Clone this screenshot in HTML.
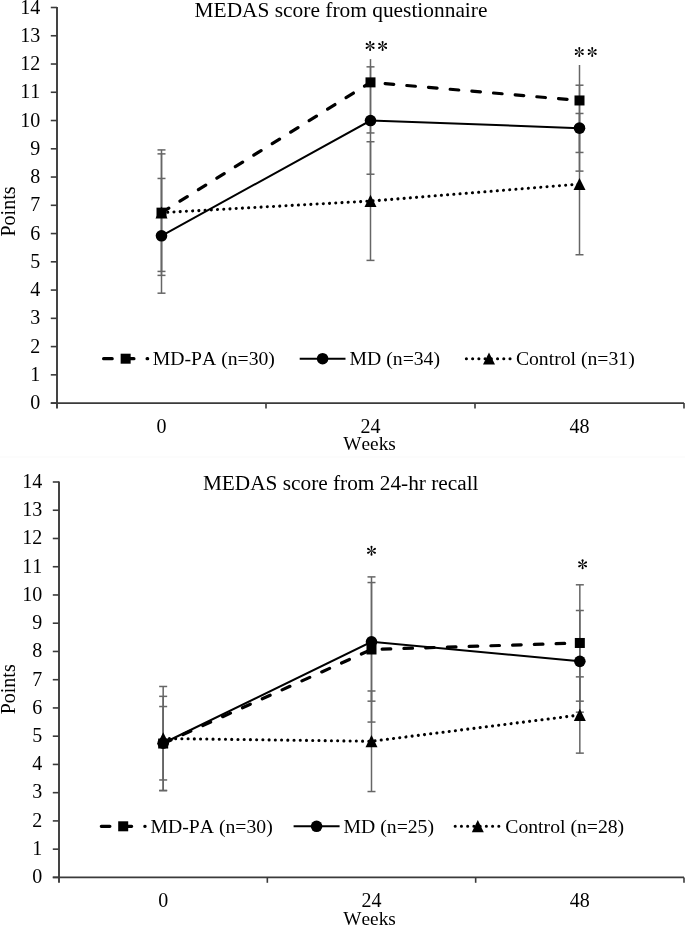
<!DOCTYPE html>
<html><head><meta charset="utf-8"><style>
html,body{margin:0;padding:0;background:#fff;}
svg{display:block;will-change:transform;}
text{font-family:"Liberation Serif", serif;font-size:20px;fill:#000;font-kerning:none;}
</style></head><body>
<svg width="685" height="926" viewBox="0 0 685 926">
<rect width="685" height="926" fill="#fff"/>
<rect x="0" y="456.5" width="685" height="1" fill="#fafafa"/>
<line x1="50.80" y1="403.10" x2="57.00" y2="403.10" stroke="#3a3a3a" stroke-width="1.6"/>
<line x1="50.80" y1="374.84" x2="57.00" y2="374.84" stroke="#3a3a3a" stroke-width="1.6"/>
<line x1="50.80" y1="346.59" x2="57.00" y2="346.59" stroke="#3a3a3a" stroke-width="1.6"/>
<line x1="50.80" y1="318.33" x2="57.00" y2="318.33" stroke="#3a3a3a" stroke-width="1.6"/>
<line x1="50.80" y1="290.07" x2="57.00" y2="290.07" stroke="#3a3a3a" stroke-width="1.6"/>
<line x1="50.80" y1="261.82" x2="57.00" y2="261.82" stroke="#3a3a3a" stroke-width="1.6"/>
<line x1="50.80" y1="233.56" x2="57.00" y2="233.56" stroke="#3a3a3a" stroke-width="1.6"/>
<line x1="50.80" y1="205.30" x2="57.00" y2="205.30" stroke="#3a3a3a" stroke-width="1.6"/>
<line x1="50.80" y1="177.04" x2="57.00" y2="177.04" stroke="#3a3a3a" stroke-width="1.6"/>
<line x1="50.80" y1="148.79" x2="57.00" y2="148.79" stroke="#3a3a3a" stroke-width="1.6"/>
<line x1="50.80" y1="120.53" x2="57.00" y2="120.53" stroke="#3a3a3a" stroke-width="1.6"/>
<line x1="50.80" y1="92.27" x2="57.00" y2="92.27" stroke="#3a3a3a" stroke-width="1.6"/>
<line x1="50.80" y1="64.02" x2="57.00" y2="64.02" stroke="#3a3a3a" stroke-width="1.6"/>
<line x1="50.80" y1="35.76" x2="57.00" y2="35.76" stroke="#3a3a3a" stroke-width="1.6"/>
<line x1="50.80" y1="7.50" x2="57.00" y2="7.50" stroke="#3a3a3a" stroke-width="1.6"/>
<line x1="57.00" y1="6.90" x2="57.00" y2="408.50" stroke="#3a3a3a" stroke-width="1.9"/>
<line x1="50.80" y1="403.10" x2="684.00" y2="403.10" stroke="#3a3a3a" stroke-width="1.6"/>
<line x1="266.00" y1="403.10" x2="266.00" y2="408.50" stroke="#3a3a3a" stroke-width="1.6"/>
<line x1="475.00" y1="403.10" x2="475.00" y2="408.50" stroke="#3a3a3a" stroke-width="1.6"/>
<line x1="684.00" y1="403.10" x2="684.00" y2="408.50" stroke="#3a3a3a" stroke-width="1.6"/>
<text x="40.30" y="409.10" text-anchor="end" style="font-size:20px">0</text>
<text x="40.30" y="380.84" text-anchor="end" style="font-size:20px">1</text>
<text x="40.30" y="352.59" text-anchor="end" style="font-size:20px">2</text>
<text x="40.30" y="324.33" text-anchor="end" style="font-size:20px">3</text>
<text x="40.30" y="296.07" text-anchor="end" style="font-size:20px">4</text>
<text x="40.30" y="267.82" text-anchor="end" style="font-size:20px">5</text>
<text x="40.30" y="239.56" text-anchor="end" style="font-size:20px">6</text>
<text x="40.30" y="211.30" text-anchor="end" style="font-size:20px">7</text>
<text x="40.30" y="183.04" text-anchor="end" style="font-size:20px">8</text>
<text x="40.30" y="154.79" text-anchor="end" style="font-size:20px">9</text>
<text x="40.30" y="126.53" text-anchor="end" style="font-size:20px">10</text>
<text x="40.30" y="98.27" text-anchor="end" style="font-size:20px">11</text>
<text x="40.30" y="70.02" text-anchor="end" style="font-size:20px">12</text>
<text x="40.30" y="41.76" text-anchor="end" style="font-size:20px">13</text>
<text x="40.30" y="13.50" text-anchor="end" style="font-size:20px">14</text>
<text x="161.50" y="432.80" text-anchor="middle">0</text>
<text x="370.50" y="432.80" text-anchor="middle">24</text>
<text x="579.50" y="432.80" text-anchor="middle">48</text>
<text x="369.60" y="450.10" text-anchor="middle" style="font-size:19.3px">Weeks</text>
<text transform="translate(15.30,211.50) rotate(-90)" text-anchor="middle">Points</text>
<text x="341.00" y="16.90" text-anchor="middle" style="font-size:21.4px">MEDAS score from questionnaire</text>
<line x1="161.50" y1="149.92" x2="161.50" y2="275.38" stroke="#666666" stroke-width="1.5"/>
<line x1="157.50" y1="149.92" x2="165.50" y2="149.92" stroke="#666666" stroke-width="1.5"/>
<line x1="157.50" y1="275.38" x2="165.50" y2="275.38" stroke="#666666" stroke-width="1.5"/>
<line x1="370.50" y1="31.80" x2="370.50" y2="132.96" stroke="#666666" stroke-width="1.5"/>
<line x1="366.50" y1="31.80" x2="374.50" y2="31.80" stroke="#666666" stroke-width="1.5"/>
<line x1="366.50" y1="132.96" x2="374.50" y2="132.96" stroke="#666666" stroke-width="1.5"/>
<line x1="579.50" y1="48.47" x2="579.50" y2="152.46" stroke="#666666" stroke-width="1.5"/>
<line x1="575.50" y1="48.47" x2="583.50" y2="48.47" stroke="#666666" stroke-width="1.5"/>
<line x1="575.50" y1="152.46" x2="583.50" y2="152.46" stroke="#666666" stroke-width="1.5"/>
<line x1="161.50" y1="178.46" x2="161.50" y2="293.18" stroke="#666666" stroke-width="1.5"/>
<line x1="157.50" y1="178.46" x2="165.50" y2="178.46" stroke="#666666" stroke-width="1.5"/>
<line x1="157.50" y1="293.18" x2="165.50" y2="293.18" stroke="#666666" stroke-width="1.5"/>
<line x1="370.50" y1="66.84" x2="370.50" y2="174.22" stroke="#666666" stroke-width="1.5"/>
<line x1="366.50" y1="66.84" x2="374.50" y2="66.84" stroke="#666666" stroke-width="1.5"/>
<line x1="366.50" y1="174.22" x2="374.50" y2="174.22" stroke="#666666" stroke-width="1.5"/>
<line x1="579.50" y1="85.21" x2="579.50" y2="171.11" stroke="#666666" stroke-width="1.5"/>
<line x1="575.50" y1="85.21" x2="583.50" y2="85.21" stroke="#666666" stroke-width="1.5"/>
<line x1="575.50" y1="171.11" x2="583.50" y2="171.11" stroke="#666666" stroke-width="1.5"/>
<line x1="161.50" y1="153.87" x2="161.50" y2="271.42" stroke="#666666" stroke-width="1.5"/>
<line x1="157.50" y1="153.87" x2="165.50" y2="153.87" stroke="#666666" stroke-width="1.5"/>
<line x1="157.50" y1="271.42" x2="165.50" y2="271.42" stroke="#666666" stroke-width="1.5"/>
<line x1="370.50" y1="141.72" x2="370.50" y2="260.40" stroke="#666666" stroke-width="1.5"/>
<line x1="366.50" y1="141.72" x2="374.50" y2="141.72" stroke="#666666" stroke-width="1.5"/>
<line x1="366.50" y1="260.40" x2="374.50" y2="260.40" stroke="#666666" stroke-width="1.5"/>
<line x1="579.50" y1="113.47" x2="579.50" y2="254.75" stroke="#666666" stroke-width="1.5"/>
<line x1="575.50" y1="113.47" x2="583.50" y2="113.47" stroke="#666666" stroke-width="1.5"/>
<line x1="575.50" y1="254.75" x2="583.50" y2="254.75" stroke="#666666" stroke-width="1.5"/>
<polyline points="161.50,212.65 370.50,82.38 579.50,100.47" fill="none" stroke="#000" stroke-width="3.2" stroke-linecap="round" stroke-dasharray="8.6 13.15"/>
<polyline points="161.50,235.82 370.50,120.53 579.50,128.16" fill="none" stroke="#000" stroke-width="2"/>
<polyline points="161.50,212.65 370.50,201.06 579.50,184.11" fill="none" stroke="#000" stroke-width="3.1" stroke-linecap="round" stroke-dasharray="0.01 6.222"/>
<rect x="156.50" y="207.65" width="10" height="10" fill="#000"/>
<rect x="365.50" y="77.38" width="10" height="10" fill="#000"/>
<rect x="574.50" y="95.47" width="10" height="10" fill="#000"/>
<circle cx="161.50" cy="235.82" r="5.8" fill="#000"/>
<circle cx="370.50" cy="120.53" r="5.8" fill="#000"/>
<circle cx="579.50" cy="128.16" r="5.8" fill="#000"/>
<polygon points="161.50,206.45 155.50,218.55 167.50,218.55" fill="#000"/>
<polygon points="370.50,194.86 364.50,206.96 376.50,206.96" fill="#000"/>
<polygon points="579.50,177.91 573.50,190.01 585.50,190.01" fill="#000"/>
<rect x="356.50" y="25.10" width="28" height="34" fill="#fff"/>
<g transform="translate(370.10,45.90)" fill="#000"><path d="M-0.1,0 L-1.02,-3.98 A1.02,1.02 0 0 1 1.02,-3.98 L0.1,0 Z" transform="rotate(0)"/><path d="M-0.1,0 L-1.02,-3.98 A1.02,1.02 0 0 1 1.02,-3.98 L0.1,0 Z" transform="rotate(60)"/><path d="M-0.1,0 L-1.02,-3.98 A1.02,1.02 0 0 1 1.02,-3.98 L0.1,0 Z" transform="rotate(120)"/><path d="M-0.1,0 L-1.02,-3.98 A1.02,1.02 0 0 1 1.02,-3.98 L0.1,0 Z" transform="rotate(180)"/><path d="M-0.1,0 L-1.02,-3.98 A1.02,1.02 0 0 1 1.02,-3.98 L0.1,0 Z" transform="rotate(240)"/><path d="M-0.1,0 L-1.02,-3.98 A1.02,1.02 0 0 1 1.02,-3.98 L0.1,0 Z" transform="rotate(300)"/></g>
<g transform="translate(382.60,45.90)" fill="#000"><path d="M-0.1,0 L-1.02,-3.98 A1.02,1.02 0 0 1 1.02,-3.98 L0.1,0 Z" transform="rotate(0)"/><path d="M-0.1,0 L-1.02,-3.98 A1.02,1.02 0 0 1 1.02,-3.98 L0.1,0 Z" transform="rotate(60)"/><path d="M-0.1,0 L-1.02,-3.98 A1.02,1.02 0 0 1 1.02,-3.98 L0.1,0 Z" transform="rotate(120)"/><path d="M-0.1,0 L-1.02,-3.98 A1.02,1.02 0 0 1 1.02,-3.98 L0.1,0 Z" transform="rotate(180)"/><path d="M-0.1,0 L-1.02,-3.98 A1.02,1.02 0 0 1 1.02,-3.98 L0.1,0 Z" transform="rotate(240)"/><path d="M-0.1,0 L-1.02,-3.98 A1.02,1.02 0 0 1 1.02,-3.98 L0.1,0 Z" transform="rotate(300)"/></g>
<rect x="565.30" y="31.00" width="28" height="34" fill="#fff"/>
<g transform="translate(579.30,52.00)" fill="#000"><path d="M-0.1,0 L-1.02,-3.98 A1.02,1.02 0 0 1 1.02,-3.98 L0.1,0 Z" transform="rotate(0)"/><path d="M-0.1,0 L-1.02,-3.98 A1.02,1.02 0 0 1 1.02,-3.98 L0.1,0 Z" transform="rotate(60)"/><path d="M-0.1,0 L-1.02,-3.98 A1.02,1.02 0 0 1 1.02,-3.98 L0.1,0 Z" transform="rotate(120)"/><path d="M-0.1,0 L-1.02,-3.98 A1.02,1.02 0 0 1 1.02,-3.98 L0.1,0 Z" transform="rotate(180)"/><path d="M-0.1,0 L-1.02,-3.98 A1.02,1.02 0 0 1 1.02,-3.98 L0.1,0 Z" transform="rotate(240)"/><path d="M-0.1,0 L-1.02,-3.98 A1.02,1.02 0 0 1 1.02,-3.98 L0.1,0 Z" transform="rotate(300)"/></g>
<g transform="translate(592.20,52.00)" fill="#000"><path d="M-0.1,0 L-1.02,-3.98 A1.02,1.02 0 0 1 1.02,-3.98 L0.1,0 Z" transform="rotate(0)"/><path d="M-0.1,0 L-1.02,-3.98 A1.02,1.02 0 0 1 1.02,-3.98 L0.1,0 Z" transform="rotate(60)"/><path d="M-0.1,0 L-1.02,-3.98 A1.02,1.02 0 0 1 1.02,-3.98 L0.1,0 Z" transform="rotate(120)"/><path d="M-0.1,0 L-1.02,-3.98 A1.02,1.02 0 0 1 1.02,-3.98 L0.1,0 Z" transform="rotate(180)"/><path d="M-0.1,0 L-1.02,-3.98 A1.02,1.02 0 0 1 1.02,-3.98 L0.1,0 Z" transform="rotate(240)"/><path d="M-0.1,0 L-1.02,-3.98 A1.02,1.02 0 0 1 1.02,-3.98 L0.1,0 Z" transform="rotate(300)"/></g>
<line x1="103.60" y1="358.70" x2="147.70" y2="358.70" stroke="#000" stroke-width="3.2" stroke-linecap="round" stroke-dasharray="8.6 13.15"/>
<rect x="120.65" y="353.70" width="10" height="10" fill="#000"/>
<text x="152.80" y="365.30" style="font-size:19.7px">MD-PA (n=30)</text>
<line x1="299.70" y1="358.70" x2="345.50" y2="358.70" stroke="#000" stroke-width="2"/>
<circle cx="322.60" cy="358.70" r="5.8" fill="#000"/>
<text x="349.60" y="365.30" style="font-size:19.7px">MD (n=34)</text>
<line x1="466.40" y1="358.70" x2="511.60" y2="358.70" stroke="#000" stroke-width="3.1" stroke-linecap="round" stroke-dasharray="0.01 6.222"/>
<polygon points="489.00,352.50 483.00,364.60 495.00,364.60" fill="#000"/>
<text x="515.90" y="365.30" style="font-size:19.7px">Control (n=31)</text>
<line x1="52.80" y1="877.40" x2="59.00" y2="877.40" stroke="#3a3a3a" stroke-width="1.6"/>
<line x1="52.80" y1="849.16" x2="59.00" y2="849.16" stroke="#3a3a3a" stroke-width="1.6"/>
<line x1="52.80" y1="820.91" x2="59.00" y2="820.91" stroke="#3a3a3a" stroke-width="1.6"/>
<line x1="52.80" y1="792.67" x2="59.00" y2="792.67" stroke="#3a3a3a" stroke-width="1.6"/>
<line x1="52.80" y1="764.43" x2="59.00" y2="764.43" stroke="#3a3a3a" stroke-width="1.6"/>
<line x1="52.80" y1="736.18" x2="59.00" y2="736.18" stroke="#3a3a3a" stroke-width="1.6"/>
<line x1="52.80" y1="707.94" x2="59.00" y2="707.94" stroke="#3a3a3a" stroke-width="1.6"/>
<line x1="52.80" y1="679.70" x2="59.00" y2="679.70" stroke="#3a3a3a" stroke-width="1.6"/>
<line x1="52.80" y1="651.46" x2="59.00" y2="651.46" stroke="#3a3a3a" stroke-width="1.6"/>
<line x1="52.80" y1="623.21" x2="59.00" y2="623.21" stroke="#3a3a3a" stroke-width="1.6"/>
<line x1="52.80" y1="594.97" x2="59.00" y2="594.97" stroke="#3a3a3a" stroke-width="1.6"/>
<line x1="52.80" y1="566.73" x2="59.00" y2="566.73" stroke="#3a3a3a" stroke-width="1.6"/>
<line x1="52.80" y1="538.48" x2="59.00" y2="538.48" stroke="#3a3a3a" stroke-width="1.6"/>
<line x1="52.80" y1="510.24" x2="59.00" y2="510.24" stroke="#3a3a3a" stroke-width="1.6"/>
<line x1="52.80" y1="482.00" x2="59.00" y2="482.00" stroke="#3a3a3a" stroke-width="1.6"/>
<line x1="59.00" y1="481.40" x2="59.00" y2="882.80" stroke="#3a3a3a" stroke-width="1.9"/>
<line x1="52.80" y1="877.40" x2="684.00" y2="877.40" stroke="#3a3a3a" stroke-width="1.6"/>
<line x1="267.33" y1="877.40" x2="267.33" y2="882.80" stroke="#3a3a3a" stroke-width="1.6"/>
<line x1="475.67" y1="877.40" x2="475.67" y2="882.80" stroke="#3a3a3a" stroke-width="1.6"/>
<line x1="684.00" y1="877.40" x2="684.00" y2="882.80" stroke="#3a3a3a" stroke-width="1.6"/>
<text x="42.30" y="883.20" text-anchor="end" style="font-size:20px">0</text>
<text x="42.30" y="854.96" text-anchor="end" style="font-size:20px">1</text>
<text x="42.30" y="826.71" text-anchor="end" style="font-size:20px">2</text>
<text x="42.30" y="798.47" text-anchor="end" style="font-size:20px">3</text>
<text x="42.30" y="770.23" text-anchor="end" style="font-size:20px">4</text>
<text x="42.30" y="741.98" text-anchor="end" style="font-size:20px">5</text>
<text x="42.30" y="713.74" text-anchor="end" style="font-size:20px">6</text>
<text x="42.30" y="685.50" text-anchor="end" style="font-size:20px">7</text>
<text x="42.30" y="657.26" text-anchor="end" style="font-size:20px">8</text>
<text x="42.30" y="629.01" text-anchor="end" style="font-size:20px">9</text>
<text x="42.30" y="600.77" text-anchor="end" style="font-size:20px">10</text>
<text x="42.30" y="572.53" text-anchor="end" style="font-size:20px">11</text>
<text x="42.30" y="544.28" text-anchor="end" style="font-size:20px">12</text>
<text x="42.30" y="516.04" text-anchor="end" style="font-size:20px">13</text>
<text x="42.30" y="487.80" text-anchor="end" style="font-size:20px">14</text>
<text x="163.17" y="906.90" text-anchor="middle">0</text>
<text x="371.50" y="906.90" text-anchor="middle">24</text>
<text x="579.83" y="906.90" text-anchor="middle">48</text>
<text x="369.60" y="924.70" text-anchor="middle" style="font-size:19.3px">Weeks</text>
<text transform="translate(15.30,689.30) rotate(-90)" text-anchor="middle">Points</text>
<text x="340.70" y="490.40" text-anchor="middle" style="font-size:21.3px">MEDAS score from 24-hr recall</text>
<line x1="163.17" y1="696.36" x2="163.17" y2="790.69" stroke="#666666" stroke-width="1.5"/>
<line x1="159.17" y1="696.36" x2="167.17" y2="696.36" stroke="#666666" stroke-width="1.5"/>
<line x1="159.17" y1="790.69" x2="167.17" y2="790.69" stroke="#666666" stroke-width="1.5"/>
<line x1="371.50" y1="576.89" x2="371.50" y2="722.06" stroke="#666666" stroke-width="1.5"/>
<line x1="367.50" y1="576.89" x2="375.50" y2="576.89" stroke="#666666" stroke-width="1.5"/>
<line x1="367.50" y1="722.06" x2="375.50" y2="722.06" stroke="#666666" stroke-width="1.5"/>
<line x1="579.83" y1="584.80" x2="579.83" y2="701.16" stroke="#666666" stroke-width="1.5"/>
<line x1="575.83" y1="584.80" x2="583.83" y2="584.80" stroke="#666666" stroke-width="1.5"/>
<line x1="575.83" y1="701.16" x2="583.83" y2="701.16" stroke="#666666" stroke-width="1.5"/>
<line x1="163.17" y1="706.53" x2="163.17" y2="779.96" stroke="#666666" stroke-width="1.5"/>
<line x1="159.17" y1="706.53" x2="167.17" y2="706.53" stroke="#666666" stroke-width="1.5"/>
<line x1="159.17" y1="779.96" x2="167.17" y2="779.96" stroke="#666666" stroke-width="1.5"/>
<line x1="371.50" y1="582.54" x2="371.50" y2="701.16" stroke="#666666" stroke-width="1.5"/>
<line x1="367.50" y1="582.54" x2="375.50" y2="582.54" stroke="#666666" stroke-width="1.5"/>
<line x1="367.50" y1="701.16" x2="375.50" y2="701.16" stroke="#666666" stroke-width="1.5"/>
<line x1="579.83" y1="610.50" x2="579.83" y2="712.18" stroke="#666666" stroke-width="1.5"/>
<line x1="575.83" y1="610.50" x2="583.83" y2="610.50" stroke="#666666" stroke-width="1.5"/>
<line x1="575.83" y1="712.18" x2="583.83" y2="712.18" stroke="#666666" stroke-width="1.5"/>
<line x1="163.17" y1="686.48" x2="163.17" y2="790.41" stroke="#666666" stroke-width="1.5"/>
<line x1="159.17" y1="686.48" x2="167.17" y2="686.48" stroke="#666666" stroke-width="1.5"/>
<line x1="159.17" y1="790.41" x2="167.17" y2="790.41" stroke="#666666" stroke-width="1.5"/>
<line x1="371.50" y1="691.00" x2="371.50" y2="791.54" stroke="#666666" stroke-width="1.5"/>
<line x1="367.50" y1="691.00" x2="375.50" y2="691.00" stroke="#666666" stroke-width="1.5"/>
<line x1="367.50" y1="791.54" x2="375.50" y2="791.54" stroke="#666666" stroke-width="1.5"/>
<line x1="579.83" y1="676.87" x2="579.83" y2="753.13" stroke="#666666" stroke-width="1.5"/>
<line x1="575.83" y1="676.87" x2="583.83" y2="676.87" stroke="#666666" stroke-width="1.5"/>
<line x1="575.83" y1="753.13" x2="583.83" y2="753.13" stroke="#666666" stroke-width="1.5"/>
<polyline points="163.17,743.53 371.50,649.48 579.83,642.98" fill="none" stroke="#000" stroke-width="3.2" stroke-linecap="round" stroke-dasharray="8.6 13.15"/>
<polyline points="163.17,743.25 371.50,641.85 579.83,661.34" fill="none" stroke="#000" stroke-width="2"/>
<polyline points="163.17,738.44 371.50,741.27 579.83,715.00" fill="none" stroke="#000" stroke-width="3.1" stroke-linecap="round" stroke-dasharray="0.01 6.222"/>
<rect x="158.17" y="738.53" width="10" height="10" fill="#000"/>
<rect x="366.50" y="644.48" width="10" height="10" fill="#000"/>
<rect x="574.83" y="637.98" width="10" height="10" fill="#000"/>
<circle cx="163.17" cy="743.25" r="5.8" fill="#000"/>
<circle cx="371.50" cy="641.85" r="5.8" fill="#000"/>
<circle cx="579.83" cy="661.34" r="5.8" fill="#000"/>
<polygon points="163.17,732.24 157.17,744.34 169.17,744.34" fill="#000"/>
<polygon points="371.50,735.07 365.50,747.17 377.50,747.17" fill="#000"/>
<polygon points="579.83,708.80 573.83,720.90 585.83,720.90" fill="#000"/>
<g transform="translate(371.50,550.80)" fill="#000"><path d="M-0.1,0 L-1.02,-3.98 A1.02,1.02 0 0 1 1.02,-3.98 L0.1,0 Z" transform="rotate(0)"/><path d="M-0.1,0 L-1.02,-3.98 A1.02,1.02 0 0 1 1.02,-3.98 L0.1,0 Z" transform="rotate(60)"/><path d="M-0.1,0 L-1.02,-3.98 A1.02,1.02 0 0 1 1.02,-3.98 L0.1,0 Z" transform="rotate(120)"/><path d="M-0.1,0 L-1.02,-3.98 A1.02,1.02 0 0 1 1.02,-3.98 L0.1,0 Z" transform="rotate(180)"/><path d="M-0.1,0 L-1.02,-3.98 A1.02,1.02 0 0 1 1.02,-3.98 L0.1,0 Z" transform="rotate(240)"/><path d="M-0.1,0 L-1.02,-3.98 A1.02,1.02 0 0 1 1.02,-3.98 L0.1,0 Z" transform="rotate(300)"/></g>
<g transform="translate(582.60,564.30)" fill="#000"><path d="M-0.1,0 L-1.02,-3.98 A1.02,1.02 0 0 1 1.02,-3.98 L0.1,0 Z" transform="rotate(0)"/><path d="M-0.1,0 L-1.02,-3.98 A1.02,1.02 0 0 1 1.02,-3.98 L0.1,0 Z" transform="rotate(60)"/><path d="M-0.1,0 L-1.02,-3.98 A1.02,1.02 0 0 1 1.02,-3.98 L0.1,0 Z" transform="rotate(120)"/><path d="M-0.1,0 L-1.02,-3.98 A1.02,1.02 0 0 1 1.02,-3.98 L0.1,0 Z" transform="rotate(180)"/><path d="M-0.1,0 L-1.02,-3.98 A1.02,1.02 0 0 1 1.02,-3.98 L0.1,0 Z" transform="rotate(240)"/><path d="M-0.1,0 L-1.02,-3.98 A1.02,1.02 0 0 1 1.02,-3.98 L0.1,0 Z" transform="rotate(300)"/></g>
<line x1="101.30" y1="826.30" x2="145.10" y2="826.30" stroke="#000" stroke-width="3.2" stroke-linecap="round" stroke-dasharray="8.6 13.15"/>
<rect x="118.20" y="821.30" width="10" height="10" fill="#000"/>
<text x="150.60" y="832.70" style="font-size:19.7px">MD-PA (n=30)</text>
<line x1="293.60" y1="826.30" x2="339.60" y2="826.30" stroke="#000" stroke-width="2"/>
<circle cx="316.60" cy="826.30" r="5.8" fill="#000"/>
<text x="343.60" y="832.70" style="font-size:19.7px">MD (n=25)</text>
<line x1="455.20" y1="826.30" x2="500.40" y2="826.30" stroke="#000" stroke-width="3.1" stroke-linecap="round" stroke-dasharray="0.01 6.222"/>
<polygon points="477.80,820.10 471.80,832.20 483.80,832.20" fill="#000"/>
<text x="505.30" y="832.70" style="font-size:19.7px">Control (n=28)</text>
</svg>
</body></html>
